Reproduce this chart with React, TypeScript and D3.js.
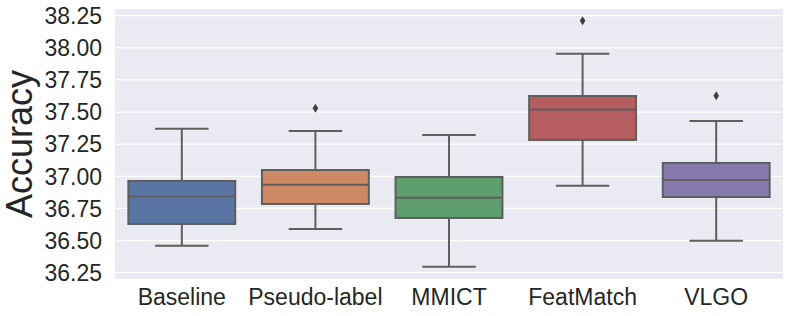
import React, { useEffect, useRef } from 'react';
import * as d3 from 'd3';

// box stats
const methods = ['Baseline', 'Pseudo-label', 'MMICT', 'FeatMatch', 'VLGO'];
const whiskerLow = [36.46, 36.59, 36.297, 36.927, 36.499];
const q1 = [36.629, 36.785, 36.676, 37.283, 36.839];
const median = [36.842, 36.935, 36.834, 37.519, 36.971];
const q3 = [36.964, 37.049, 36.995, 37.625, 37.104];
const whiskerHigh = [37.371, 37.353, 37.322, 37.954, 37.431];
const outliers = [[], [37.529], [], [38.211], [37.627]];
const colors = ['#5975a4', '#cc8963', '#5f9e6e', '#b55d60', '#857aab'];
const yTicks = [36.25, 36.5, 36.75, 37.0, 37.25, 37.5, 37.75, 38.0, 38.25];

const App = () => {
  const ref = useRef<SVGSVGElement>(null);

  useEffect(() => {
    const W = 790, H = 316;
    const left = 115, right = 783, top = 9, bottom = 279;
    const svg = d3.select(ref.current).attr('width', W).attr('height', H);
    svg.selectAll('*').remove();

    const x = d3.scaleBand().domain(methods).range([left, right]).padding(0);
    const y = d3.scaleLinear().domain([36.201, 38.302]).range([bottom, top]);
    const font = 'Arial, "Liberation Sans", sans-serif';
    const line = '#5e5e5e';

    svg.append('rect')
      .attr('x', left).attr('y', top)
      .attr('width', right - left).attr('height', bottom - top)
      .attr('fill', '#eaeaf2');

    svg.append('g').selectAll('line').data(yTicks).enter().append('line')
      .attr('x1', left).attr('x2', right)
      .attr('y1', d => y(d)).attr('y2', d => y(d))
      .attr('stroke', '#fff').attr('stroke-width', 1.3);

    svg.append('g').selectAll('text').data(yTicks).enter().append('text')
      .attr('x', left - 13).attr('y', d => y(d))
      .attr('dy', '0.36em')
      .attr('text-anchor', 'end')
      .attr('font-family', font).attr('font-size', 23)
      .attr('fill', '#262626')
      .text(d => d.toFixed(2));

    svg.append('g').selectAll('text').data(methods).enter().append('text')
      .attr('x', d => x(d)! + x.bandwidth() / 2).attr('y', 305)
      .attr('text-anchor', 'middle')
      .attr('font-family', font).attr('font-size', 23)
      .attr('fill', '#262626')
      .text(d => d);

    svg.append('text')
      .attr('transform', `translate(32,${(top + bottom) / 2}) rotate(-90)`)
      .attr('text-anchor', 'middle')
      .attr('font-family', font).attr('font-size', 36)
      .attr('fill', '#262626')
      .text('Accuracy');

    const boxW = x.bandwidth() * 0.8;
    const capW = boxW / 2;
    const g = svg.append('g');

    methods.forEach((m, i) => {
      const cx = x(m)! + x.bandwidth() / 2;
      // whiskers
      g.append('line').attr('x1', cx).attr('x2', cx)
        .attr('y1', y(q3[i])).attr('y2', y(whiskerHigh[i]))
        .attr('stroke', line).attr('stroke-width', 2);
      g.append('line').attr('x1', cx).attr('x2', cx)
        .attr('y1', y(q1[i])).attr('y2', y(whiskerLow[i]))
        .attr('stroke', line).attr('stroke-width', 2);
      [whiskerHigh[i], whiskerLow[i]].forEach(v => {
        g.append('line').attr('x1', cx - capW / 2).attr('x2', cx + capW / 2)
          .attr('y1', y(v)).attr('y2', y(v))
          .attr('stroke', line).attr('stroke-width', 2);
      });
      // box
      g.append('rect')
        .attr('x', cx - boxW / 2).attr('y', y(q3[i]))
        .attr('width', boxW).attr('height', y(q1[i]) - y(q3[i]))
        .attr('fill', colors[i]).attr('stroke', line).attr('stroke-width', 2);
      g.append('line').attr('x1', cx - boxW / 2).attr('x2', cx + boxW / 2)
        .attr('y1', y(median[i])).attr('y2', y(median[i]))
        .attr('stroke', line).attr('stroke-width', 2);
      // fliers
      outliers[i].forEach(v => {
        const py = y(v);
        g.append('path')
          .attr('d', `M${cx},${py - 4.5}L${cx + 2.8},${py}L${cx},${py + 4.5}L${cx - 2.8},${py}Z`)
          .attr('fill', '#3d3d3d');
      });
    });
  }, []);

  return (
    <div style={{ position: 'absolute', left: 0, top: 0, background: '#fff' }}>
      <svg ref={ref} style={{ display: 'block' }}></svg>
    </div>
  );
};

export default App;
